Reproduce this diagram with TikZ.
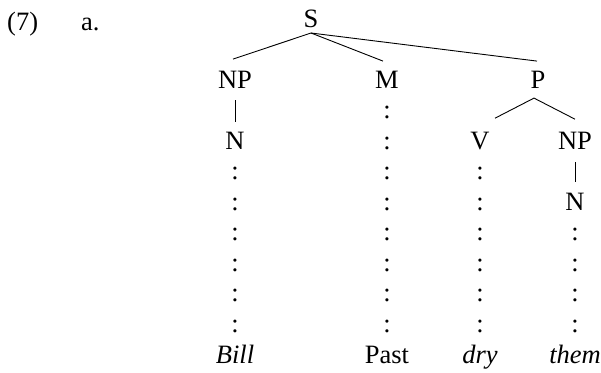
\documentclass[tikz,border=0pt]{standalone}
\usepackage{fontspec}
\setmainfont{Liberation Serif}
\begin{document}
\begin{tikzpicture}[x=1pt,y=-1pt,
  lab/.style={inner sep=0pt, anchor=base, font=\fontsize{26.5}{31}\selectfont},
  word/.style={lab, font=\fontsize{26.5}{31}\selectfont\itshape},
  branch/.style={line width=0.9pt},
  colon/.style={lab}]
\useasboundingbox (0,0) rectangle (601,372);

% example number
\node[lab, anchor=base west] (num) at (7,30) {(7)};
\node[lab, anchor=base west] (sub) at (81,30) {a.};

% categories
\node[lab] (S)   at (311,27)    {S};
\node[lab] (NP1) at (235,88.1)  {NP};
\node[lab] (M)   at (387,88.1)  {M};
\node[lab] (P)   at (538,88.1)  {P};
\node[lab] (N1)  at (235,149.2) {N};
\node[lab] (V)   at (480,149.2) {V};
\node[lab] (NP2) at (575,149.2) {NP};
\node[lab] (N2)  at (575,210.3) {N};

% terminal string
\node[word] (bill) at (235,363) {Bill};
\node[lab]  (past) at (387,363) {Past};
\node[word] (dry)  at (480,363) {dry};
\node[word] (them) at (575,363) {them};

% branches
\draw[branch] ([yshift=-6pt]S.base) -- ([xshift=-2pt,yshift=29pt]NP1.base);
\draw[branch] ([yshift=-6pt]S.base) -- ([xshift=-4pt,yshift=27pt]M.base);
\draw[branch] ([yshift=-6pt]S.base) -- ([xshift=-1pt,yshift=27pt]P.base);
\draw[branch] ([xshift=-4pt,yshift=-10pt]P.base) -- ([xshift=15pt,yshift=31pt]V.base);
\draw[branch] ([xshift=-4pt,yshift=-10pt]P.base) -- ([yshift=30pt]NP2.base);
\draw[branch] ([yshift=-12pt]NP1.base) -- ([yshift=27pt]N1.base);
\draw[branch] ([yshift=-13pt]NP2.base) -- ([yshift=28pt]N2.base);

% colon columns down to the words
\foreach \k [evaluate=\k as \t using \k/7] in {1,...,6}
  \path (N1.base) -- node[colon, pos=\t] (ca\k) {:} (bill.base);
\foreach \k [evaluate=\k as \t using \k/9] in {1,...,8}
  \path (M.base) -- node[colon, pos=\t] (cb\k) {:} (past.base);
\foreach \k [evaluate=\k as \t using \k/7] in {1,...,6}
  \path (V.base) -- node[colon, pos=\t] (cc\k) {:} (dry.base);
\foreach \k [evaluate=\k as \t using \k/5] in {1,...,4}
  \path (N2.base) -- node[colon, pos=\t] (cd\k) {:} (them.base);
\end{tikzpicture}
\end{document}
